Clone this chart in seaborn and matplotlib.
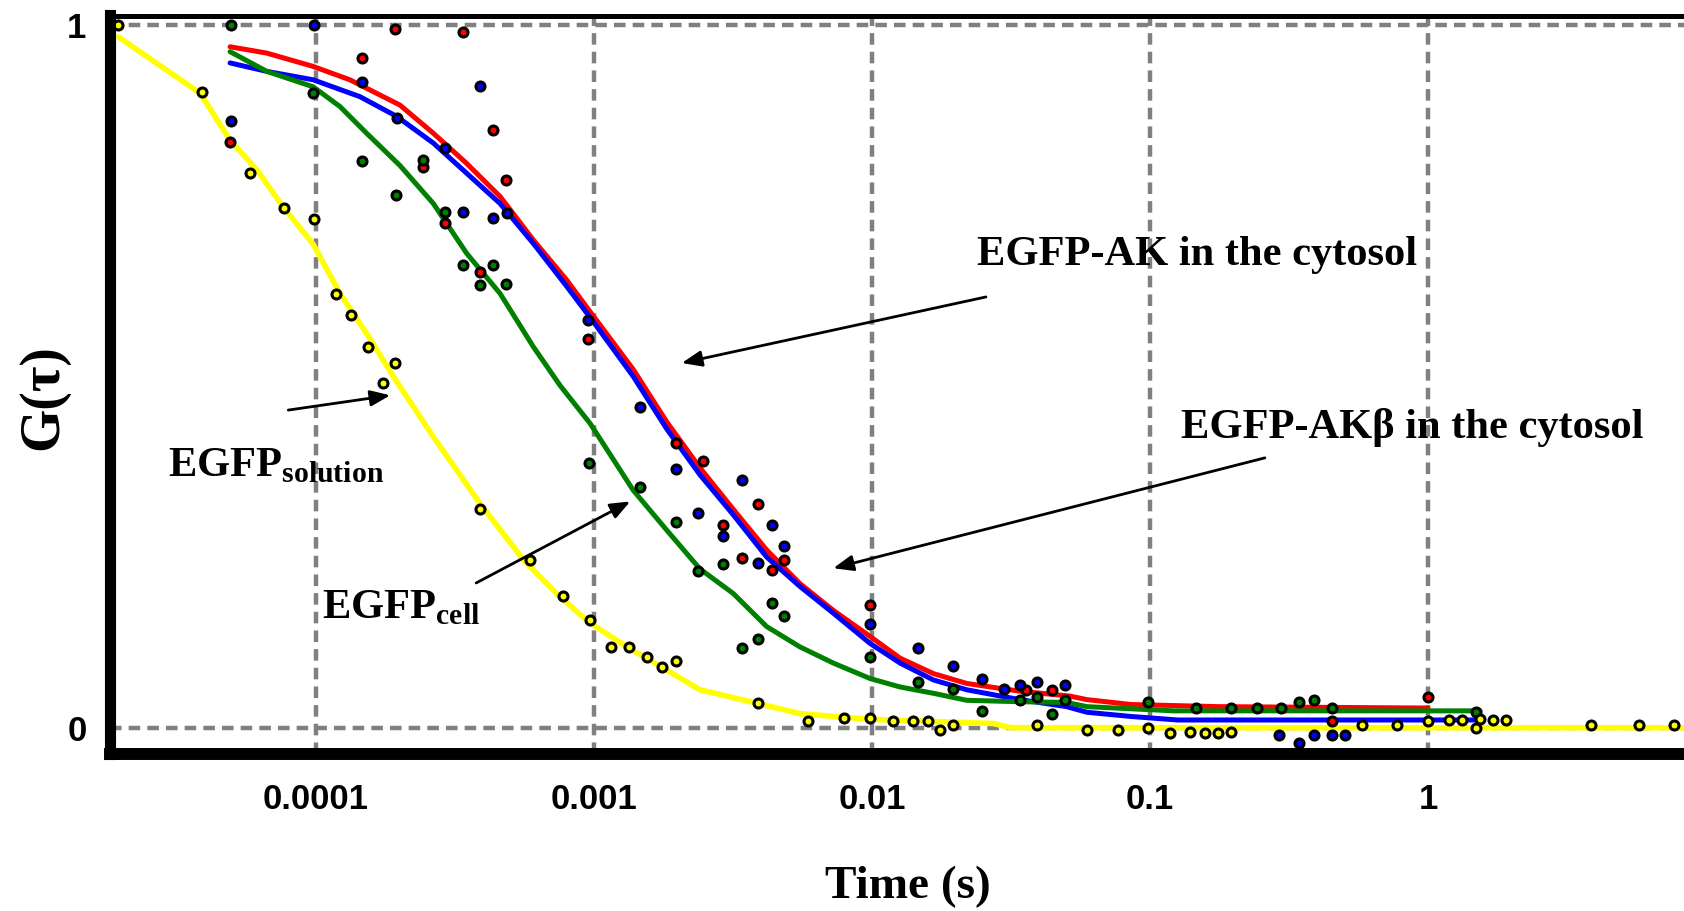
import numpy as np
import matplotlib
matplotlib.use("Agg")
import matplotlib.pyplot as plt
import seaborn as sns

# ---------------------------------------------------------------------------
# FCS autocorrelation data: lag time given as log10(tau / s), G(tau) normalised
# ---------------------------------------------------------------------------
# fitted curves
solution_fit_logt = [-4.711, -4.417, -4.309, -4.213, -4.118, -4.010, -3.914, -3.818,
                     -3.722, -3.578, -3.410, -3.254, -3.122, -3.014, -2.882, -2.738,
                     -2.619, -2.415, -2.259, -2.007, -1.564, -1.500, 0.921]
solution_fit_g = [0.983, 0.903, 0.836, 0.794, 0.741, 0.688, 0.618, 0.561,
                  0.500, 0.414, 0.319, 0.239, 0.186, 0.149, 0.115, 0.082,
                  0.054, 0.035, 0.020, 0.012, 0.006, 0.000, 0.000]

ak_fit_logt = [-4.309, -4.177, -4.010, -3.878, -3.698, -3.578, -3.458, -3.338, -3.218,
               -3.098, -3.014, -2.859, -2.738, -2.619, -2.487, -2.379, -2.259, -2.139,
               -2.007, -1.899, -1.779, -1.659, -1.540, -1.468, -1.288, -1.227, -1.068,
               -0.755, 0.000]
ak_fit_g = [0.969, 0.960, 0.941, 0.922, 0.886, 0.846, 0.803, 0.756, 0.694,
            0.637, 0.592, 0.510, 0.435, 0.370, 0.305, 0.253, 0.205, 0.167,
            0.130, 0.099, 0.077, 0.063, 0.056, 0.052, 0.045, 0.040, 0.033,
            0.030, 0.028]

akb_fit_logt = [-4.309, -4.177, -4.010, -3.842, -3.710, -3.578, -3.458, -3.338, -3.218,
                -3.098, -3.003, -2.859, -2.738, -2.619, -2.499, -2.379, -2.259, -2.139,
                -2.007, -1.899, -1.779, -1.659, -1.564, -1.468, -1.300, -1.227, -1.068,
                -0.900, 0.170]
akb_fit_g = [0.946, 0.934, 0.922, 0.898, 0.870, 0.832, 0.789, 0.746, 0.689,
             0.628, 0.578, 0.500, 0.425, 0.360, 0.303, 0.243, 0.201, 0.163,
             0.120, 0.092, 0.068, 0.054, 0.047, 0.040, 0.030, 0.022, 0.016,
             0.011, 0.011]

cell_fit_logt = [-4.309, -4.177, -4.010, -3.914, -3.818, -3.698, -3.578, -3.458, -3.338,
                 -3.218, -3.122, -3.014, -2.859, -2.738, -2.619, -2.499, -2.379, -2.259,
                 -2.139, -2.007, -1.899, -1.779, -1.659, -1.468, -1.300, -1.227, -0.913,
                 0.187]
cell_fit_g = [0.962, 0.934, 0.912, 0.884, 0.846, 0.800, 0.746, 0.675, 0.618,
              0.542, 0.487, 0.433, 0.338, 0.281, 0.226, 0.191, 0.144, 0.115,
              0.092, 0.070, 0.058, 0.049, 0.039, 0.037, 0.036, 0.030, 0.024,
              0.024]

# measured points
solution_pts_logt = [-4.711, -4.411, -4.237, -4.114, -4.006, -3.929, -3.875, -3.814, -3.716,
                     -3.758, -3.410, -3.230, -3.110, -3.014, -2.940, -2.873, -2.810, -2.757,
                     -2.705, -2.409, -2.229, -2.101, -2.007, -1.923, -1.851, -1.797, -1.755,
                     -1.707, -1.406, -1.226, -1.116, -1.006, -0.928, -0.857, -0.802, -0.755,
                     -0.708, -0.237, -0.111, 0.000, 0.077, 0.124, 0.171, 0.187, 0.234,
                     0.281, 0.587, 0.760, 0.885]
solution_pts_g = [1.000, 0.905, 0.789, 0.739, 0.724, 0.617, 0.587, 0.542, 0.519,
                  0.490, 0.311, 0.239, 0.187, 0.153, 0.115, 0.115, 0.101, 0.087,
                  0.095, 0.035, 0.010, 0.014, 0.014, 0.009, 0.009, 0.009, -0.003,
                  0.004, 0.004, -0.003, -0.003, -0.001, -0.008, -0.006, -0.008, -0.008,
                  -0.006, 0.004, 0.004, 0.009, 0.011, 0.011, -0.001, 0.013, 0.011,
                  0.011, 0.004, 0.004, 0.004]

ak_pts_logt = [-3.716, -4.309, -3.836, -3.470, -3.362, -3.614, -3.317, -3.536, -3.410,
               -3.020, -2.705, -2.609, -2.409, -2.535, -2.469, -2.361, -2.316, -2.007,
               -1.446, -1.351, -0.347, 0.000]
ak_pts_g = [0.995, 0.834, 0.953, 0.990, 0.851, 0.798, 0.779, 0.718, 0.649,
            0.553, 0.405, 0.379, 0.318, 0.288, 0.242, 0.224, 0.239, 0.175,
            0.054, 0.054, 0.009, 0.044]

akb_pts_logt = [-4.006, -4.306, -3.836, -3.710, -3.410, -3.536, -3.470, -3.364, -3.314,
                -3.020, -2.835, -2.705, -2.627, -2.469, -2.361, -2.535, -2.409, -2.316,
                -2.007, -1.833, -1.707, -1.606, -1.525, -1.469, -1.406, -1.304, -0.535,
                -0.465, -0.410, -0.347, -0.300]
akb_pts_g = [1.000, 0.864, 0.919, 0.867, 0.913, 0.825, 0.734, 0.725, 0.732,
             0.580, 0.457, 0.368, 0.305, 0.352, 0.288, 0.273, 0.234, 0.258,
             0.148, 0.114, 0.088, 0.069, 0.055, 0.061, 0.065, 0.061, -0.010,
             -0.022, -0.010, -0.010, -0.010]

cell_pts_logt = [-4.306, -4.010, -3.836, -3.712, -3.614, -3.536, -3.470, -3.362, -3.410,
                 -3.317, -3.017, -2.835, -2.705, -2.627, -2.535, -2.361, -2.316, -2.469,
                 -2.409, -2.007, -1.833, -1.707, -1.606, -1.469, -1.406, -1.351, -1.304,
                 -1.006, -0.833, -0.708, -0.614, -0.527, -0.465, -0.410, -0.347, 0.171]
cell_pts_g = [1.000, 0.903, 0.806, 0.758, 0.808, 0.734, 0.658, 0.658, 0.630,
              0.632, 0.377, 0.342, 0.293, 0.223, 0.233, 0.178, 0.159, 0.114,
              0.126, 0.100, 0.065, 0.055, 0.024, 0.039, 0.044, 0.020, 0.039,
              0.037, 0.028, 0.028, 0.028, 0.028, 0.037, 0.039, 0.028, 0.023]

x_tick_values = [1e-4, 1e-3, 1e-2, 1e-1, 1.0]
x_tick_labels = ["0.0001", "0.001", "0.01", "0.1", "1"]
y_tick_values = [0, 1]
y_tick_labels = ["0", "1"]

RED, BLUE, GREEN, YELLOW = "#ff0000", "#0000ff", "#008000", "#ffff00"
GRID = "#808080"

# ---------------------------------------------------------------------------
sns.set_style("white")
serif = "Liberation Serif"
tick_family, tick_size = "Liberation Sans", 25
plt.rcParams["font.family"] = [serif, "DejaVu Serif"]
plt.rcParams["text.color"] = "black"
plt.rcParams["mathtext.fontset"] = "custom"
plt.rcParams["mathtext.rm"] = serif
plt.rcParams["mathtext.bf"] = serif + ":bold"

W, H = 1684, 911
fig = plt.figure(figsize=(W / 100, H / 100), dpi=100)
left, bottom, top = 110 / W, 1 - 754 / H, 1 - 15.5 / H
ax = fig.add_axes([left, bottom, 1 - left, top - bottom])
ax.set_xscale("log")


def tau(logt):
    return 10.0 ** np.asarray(logt)


# fitted curves
for lt, g, c, lw in [(ak_fit_logt, ak_fit_g, RED, 3.6),
                     (akb_fit_logt, akb_fit_g, BLUE, 3.6),
                     (cell_fit_logt, cell_fit_g, GREEN, 3.6),
                     (solution_fit_logt, solution_fit_g, YELLOW, 4.0)]:
    sns.lineplot(x=tau(lt), y=g, color=c, linewidth=lw, ax=ax, sort=False,
                 estimator=None, legend=False, zorder=3)

# measured points
for lt, g, c in [(ak_pts_logt, ak_pts_g, RED),
                 (akb_pts_logt, akb_pts_g, BLUE),
                 (cell_pts_logt, cell_pts_g, GREEN),
                 (solution_pts_logt, solution_pts_g, YELLOW)]:
    sns.scatterplot(x=tau(lt), y=g, color=c, edgecolor="black", linewidth=2.2,
                    s=42, ax=ax, legend=False, zorder=4)

ax.set_xlim(10 ** -4.741, 10 ** 0.921)
ax.set_ylim(-0.0374, 1.0135)

# axes frame
ax.spines["right"].set_visible(False)
ax.spines["left"].set_linewidth(8)
ax.spines["bottom"].set_linewidth(8.6)
ax.spines["top"].set_linewidth(3.6)
for s in ("left", "bottom", "top"):
    ax.spines[s].set_color("black")
    ax.spines[s].set_capstyle("projecting")
    ax.spines[s].set_zorder(6)

# ticks
ax.set_xticks(x_tick_values)
ax.set_xticklabels(x_tick_labels)
minor_x = [d * m for d in [1e-5, 1e-4, 1e-3, 1e-2, 1e-1, 1.0] for m in (3.16, 5.5, 7.8)]
ax.set_xticks(minor_x, minor=True)
ax.set_xticklabels([], minor=True)
ax.set_yticks(y_tick_values)
ax.set_yticklabels(y_tick_labels)
ax.set_yticks([0.25, 0.5, 0.75], minor=True)
ax.set_yticklabels([], minor=True)

ax.tick_params(axis="x", which="major", direction="out", length=13.7, width=3.2,
               color=GRID, pad=7.5, labelsize=tick_size, labelcolor="black")
ax.tick_params(axis="x", which="minor", direction="out", length=8, width=3,
               color=GRID)
ax.tick_params(axis="y", which="major", direction="out", length=10, width=3,
               color=GRID, pad=7, labelsize=tick_size, labelcolor="black")
ax.tick_params(axis="y", which="minor", direction="out", length=7, width=1.5,
               color=GRID)
for lab in ax.get_xticklabels() + ax.get_yticklabels():
    lab.set_fontfamily(tick_family)
    lab.set_fontweight("bold")

ax.grid(which="major", axis="both", color=GRID, linewidth=3.2,
        linestyle=(0, (2.6, 1.6)), zorder=1)
ax.set_axisbelow(True)
ax.set_xlabel("")
ax.set_ylabel("")

# axis titles
fig.text(43 / W, 1 - 397 / H, "G(τ)", rotation=90, ha="center", va="center",
         fontsize=40, fontweight="bold", color="black", family=[serif, "DejaVu Serif"])
fig.text(908 / W, 1 - 887 / H, "Time (s)", ha="center", va="center",
         fontsize=34, fontweight="bold", color="black", family=[serif, "DejaVu Serif"])

# curve labels
lab_kw = dict(fontsize=30.6, fontweight="bold", ha="left", va="baseline", zorder=7,
              color="black")
ax.text(0.0239, 0.658, "EGFP-AK in the cytosol", **lab_kw)
ax.text(0.1294, 0.412, "EGFP-AKβ in the cytosol", **lab_kw)
ax.text(2.94e-5, 0.358, r"$\mathbf{EGFP}_{\mathbf{solution}}$", **lab_kw)
ax.text(1.05e-4, 0.156, r"$\mathbf{EGFP}_{\mathbf{cell}}$", **lab_kw)

arrow_kw = dict(arrowstyle="-|>,head_length=0.5,head_width=0.2", color="black",
                lw=2, mutation_scale=24, shrinkA=0, shrinkB=0)
for tip, tail in [((2.07e-3, 0.519), (0.0257, 0.613)),
                  ((7.26e-3, 0.227), (0.259, 0.384)),
                  ((1.85e-4, 0.473), (7.95e-5, 0.452)),
                  ((1.35e-3, 0.322), (3.77e-4, 0.206))]:
    ax.annotate("", xy=tip, xytext=tail, arrowprops=arrow_kw, zorder=7)

fig.savefig("out.png", dpi=100)
